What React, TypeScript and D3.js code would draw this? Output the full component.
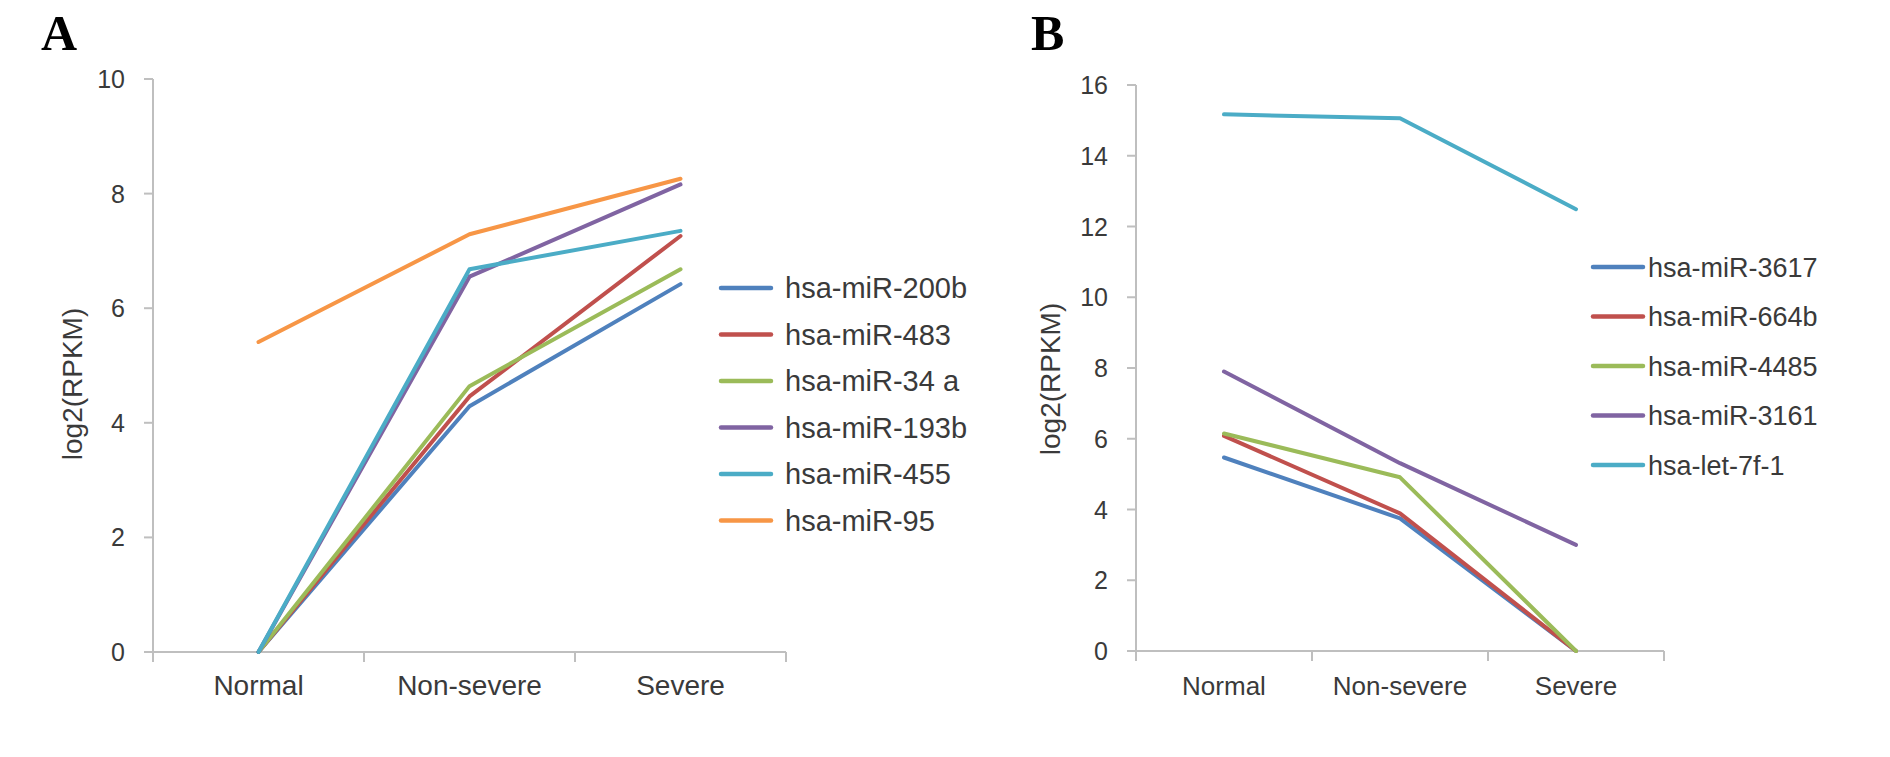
import * as d3 from "d3";

const W = 1890;
const H = 757;

const categories = ["Normal", "Non-severe", "Severe"];

// panel A
const seriesA = ["hsa-miR-200b", "hsa-miR-483", "hsa-miR-34 a", "hsa-miR-193b", "hsa-miR-455", "hsa-miR-95"];
const valuesA = [
  [0, 4.29, 6.42],
  [0, 4.46, 7.26],
  [0, 4.64, 6.68],
  [0, 6.55, 8.16],
  [0, 6.68, 7.35],
  [5.41, 7.29, 8.26],
];
const ticksA = [0, 2, 4, 6, 8, 10];

// panel B
const seriesB = ["hsa-miR-3617", "hsa-miR-664b", "hsa-miR-4485", "hsa-miR-3161", "hsa-let-7f-1"];
const valuesB = [
  [5.47, 3.75, 0],
  [6.08, 3.89, 0],
  [6.15, 4.91, 0],
  [7.9, 5.31, 3.0],
  [15.17, 15.06, 12.49],
];
const ticksB = [0, 2, 4, 6, 8, 10, 12, 14, 16];

const colorsA = ["#4F81BD", "#C0504D", "#9BBB59", "#8064A2", "#4BACC6", "#F79646"];
const colorsB = ["#4F81BD", "#C0504D", "#9BBB59", "#8064A2", "#4BACC6"];

const AXIS = "#bfbfbf";
const TXT = "#3a3a3a";
const FONT = "'Liberation Sans', Arial, sans-serif";

type PanelProps = {
  letter: string;
  letterX: number;
  names: string[];
  values: number[][];
  colors: string[];
  ticks: number[];
  x0: number;
  x1: number;
  yTop: number;
  yBottom: number;
  tickRight: number;
  labelX: number;
  labelY: number;
  catSize: number;
  legX: number;
  legY: number;
  legStep: number;
  legLen: number;
  legGap: number;
  legSize: number;
};

function Panel(p: PanelProps) {
  const x = d3.scaleBand<string>().domain(categories).range([p.x0, p.x1]);
  const y = d3
    .scaleLinear()
    .domain([0, d3.max(p.ticks) as number])
    .range([p.yBottom, p.yTop]);
  const cx = (c: string) => (x(c) as number) + x.bandwidth() / 2;
  const line = d3
    .line<number>()
    .x((_, i) => cx(categories[i]))
    .y((v) => y(v));
  const bounds = [...categories.map((c) => x(c) as number), p.x1];

  return (
    <g>
      <text
        x={p.letterX}
        y={50}
        fontFamily="'Liberation Serif', 'Times New Roman', serif"
        fontWeight="bold"
        fontSize={50}
        fill="#000"
      >
        {p.letter}
      </text>

      {/* y axis */}
      <line x1={p.x0} x2={p.x0} y1={y(d3.max(p.ticks) as number)} y2={p.yBottom} stroke={AXIS} strokeWidth={2} />
      {p.ticks.map((t) => (
        <g key={t}>
          <line x1={p.x0 - 9} x2={p.x0} y1={y(t)} y2={y(t)} stroke={AXIS} strokeWidth={2} />
          <text
            x={p.tickRight}
            y={y(t)}
            dy="0.36em"
            textAnchor="end"
            fontFamily={FONT}
            fontSize={25}
            fill={TXT}
          >
            {t}
          </text>
        </g>
      ))}
      <text
        transform={`translate(${p.labelX},${p.labelY}) rotate(-90)`}
        textAnchor="middle"
        fontFamily={FONT}
        fontSize={28}
        fill={TXT}
      >
        log2(RPKM)
      </text>

      {/* x axis */}
      <line x1={p.x0} x2={p.x1} y1={p.yBottom} y2={p.yBottom} stroke={AXIS} strokeWidth={2} />
      {bounds.map((b, i) => (
        <line key={i} x1={b} x2={b} y1={p.yBottom} y2={p.yBottom + 10} stroke={AXIS} strokeWidth={2} />
      ))}
      {categories.map((c) => (
        <text
          key={c}
          x={cx(c)}
          y={695}
          textAnchor="middle"
          fontFamily={FONT}
          fontSize={p.catSize}
          fill={TXT}
        >
          {c}
        </text>
      ))}

      {/* series */}
      {p.values.map((vals, i) => (
        <path
          key={p.names[i]}
          d={line(vals) as string}
          fill="none"
          stroke={p.colors[i]}
          strokeWidth={4}
          strokeLinejoin="round"
          strokeLinecap="round"
        />
      ))}

      {/* legend */}
      {p.names.map((n, i) => {
        const ly = p.legY + i * p.legStep;
        return (
          <g key={n}>
            <line
              x1={p.legX}
              x2={p.legX + p.legLen}
              y1={ly}
              y2={ly}
              stroke={p.colors[i]}
              strokeWidth={4.5}
              strokeLinecap="round"
            />
            <text
              x={p.legX + p.legLen + p.legGap}
              y={ly}
              dy="0.36em"
              fontFamily={FONT}
              fontSize={p.legSize}
              fill={TXT}
            >
              {n}
            </text>
          </g>
        );
      })}
    </g>
  );
}

export default function App() {
  return (
    <div style={{ position: "absolute", left: 0, top: 0 }}>
      <svg width={W} height={H} style={{ display: "block", background: "#fff" }}>
        <Panel
          letter="A"
          letterX={41}
          names={seriesA}
          values={valuesA}
          colors={colorsA}
          ticks={ticksA}
          x0={153}
          x1={786}
          yTop={79}
          yBottom={652}
          tickRight={125}
          labelX={82}
          labelY={384}
          catSize={28}
          legX={721}
          legY={288}
          legStep={46.5}
          legLen={50}
          legGap={14}
          legSize={29}
        />
        <Panel
          letter="B"
          letterX={1031}
          names={seriesB}
          values={valuesB}
          colors={colorsB}
          ticks={ticksB}
          x0={1136}
          x1={1664}
          yTop={85}
          yBottom={651}
          tickRight={1108}
          labelX={1060}
          labelY={379}
          catSize={26}
          legX={1593}
          legY={267}
          legStep={49.5}
          legLen={50}
          legGap={5}
          legSize={27}
        />
      </svg>
    </div>
  );
}
